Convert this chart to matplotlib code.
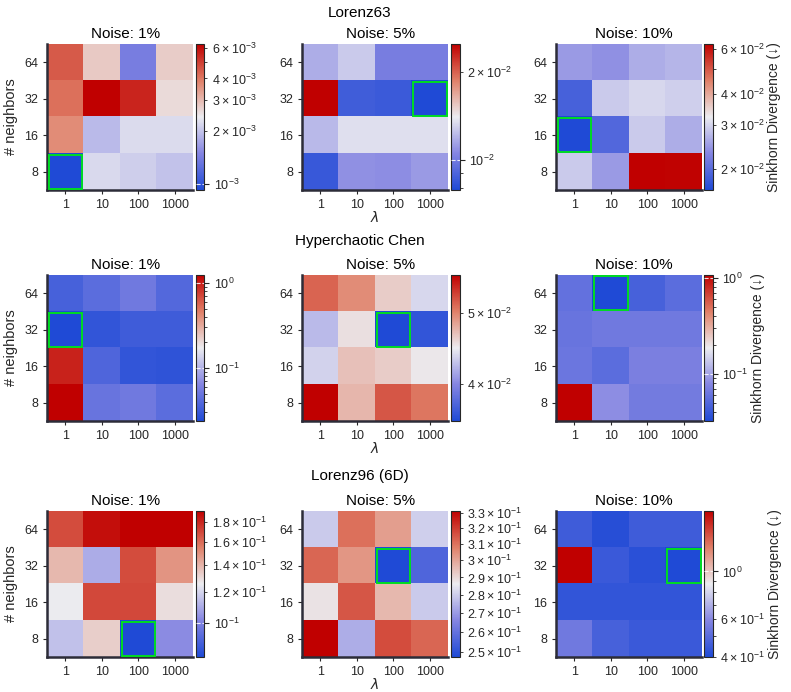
import numpy as np
import matplotlib
matplotlib.use("Agg")
import matplotlib.pyplot as plt
from matplotlib.colors import LogNorm, LinearSegmentedColormap
from matplotlib.patches import Rectangle

plt.rcParams['font.family'] = ['Liberation Sans', 'DejaVu Sans']

# ---------------- data ----------------
systems = ["Lorenz63", "Hyperchaotic Chen", "Lorenz96 (6D)"]
noise_levels = ["1%", "5%", "10%"]
neighbors = [64, 32, 16, 8]
lambdas = [1, 10, 100, 1000]

# rows: neighbors 64, 32, 16, 8 ; cols: lambda 1, 10, 100, 1000
l63_n1 = [[4.46e-3, 2.81e-3, 1.41e-3, 2.76e-3],
          [4.13e-3, 6.30e-3, 5.50e-3, 2.60e-3],
          [3.68e-3, 1.91e-3, 2.23e-3, 2.23e-3],
          [0.92e-3, 2.20e-3, 2.10e-3, 1.99e-3]]
l63_n5 = [[1.18e-2, 1.28e-2, 1.02e-2, 1.02e-2],
          [2.50e-2, 0.87e-2, 0.86e-2, 0.79e-2],
          [1.22e-2, 1.36e-2, 1.36e-2, 1.36e-2],
          [0.85e-2, 1.09e-2, 1.08e-2, 1.12e-2]]
l63_n10 = [[2.47e-2, 2.40e-2, 2.64e-2, 2.71e-2],
           [1.89e-2, 2.90e-2, 3.02e-2, 2.94e-2],
           [1.65e-2, 1.96e-2, 2.90e-2, 2.64e-2],
           [2.90e-2, 2.47e-2, 6.30e-2, 6.25e-2]]

chen_n1 = [[0.0353, 0.0431, 0.0525, 0.0398],
           [0.0238, 0.0290, 0.0327, 0.0327],
           [0.940, 0.0382, 0.0290, 0.0279],
           [1.240, 0.0485, 0.0525, 0.0431]]
chen_n5 = [[5.15e-2, 4.96e-2, 4.63e-2, 4.38e-2],
           [4.24e-2, 4.54e-2, 3.56e-2, 3.64e-2],
           [4.36e-2, 4.69e-2, 4.63e-2, 4.50e-2],
           [5.64e-2, 4.74e-2, 5.22e-2, 5.07e-2]]
chen_n10 = [[0.0587, 0.0324, 0.0460, 0.0548],
            [0.0608, 0.0652, 0.0652, 0.0652],
            [0.0630, 0.0548, 0.0724, 0.0724],
            [1.070, 0.0833, 0.0675, 0.0675]]

l96_n1 = [[0.169, 0.187, 0.192, 0.192],
          [0.139, 0.110, 0.169, 0.149],
          [0.125, 0.170, 0.170, 0.129],
          [0.115, 0.133, 0.0819, 0.103]]
l96_n5 = [[0.2797, 0.3104, 0.3015, 0.2805],
          [0.3122, 0.3032, 0.2475, 0.2562],
          [0.2879, 0.3149, 0.2963, 0.2797],
          [0.3310, 0.2740, 0.3168, 0.3122]]
l96_n10 = [[0.453, 0.413, 0.453, 0.453],
           [1.910, 0.446, 0.419, 0.400],
           [0.432, 0.432, 0.432, 0.432],
           [0.547, 0.468, 0.446, 0.446]]

panels = [[l63_n1, l63_n5, l63_n10],
          [chen_n1, chen_n5, chen_n10],
          [l96_n1, l96_n5, l96_n10]]

# ---------------- style ----------------
cmap = LinearSegmentedColormap.from_list(
    "bwr_custom", ["#1f4ad6", "#8585e2", "#ececf0", "#e08068", "#c00000"])

W, H = 791, 692
fig = plt.figure(figsize=(W / 100, H / 100), dpi=100)


def box(x, y, w, h):
    return [x / W, 1 - (y + h) / H, w / W, h / H]


hx = [47, 302, 556]
hy = [44, 275, 511]
hs = 146
cx = [196, 451, 704]
cw = 8.5
row_title_y = [13, 241, 476]
noise_title_y = [34, 265, 501]
dark = "#262626"

for r in range(3):
    fig.text(360 / W, 1 - row_title_y[r] / H, systems[r], ha="center",
             va="center", fontsize=11)
    for c in range(3):
        arr = np.array(panels[r][c])
        ax = fig.add_axes(box(hx[c], hy[r], hs, hs))
        norm = LogNorm(vmin=arr.min(), vmax=arr.max())
        im = ax.imshow(arr, cmap=cmap, norm=norm, aspect="auto",
                       interpolation="nearest")
        ax.set_xticks(range(len(lambdas)))
        ax.set_xticklabels([str(v) for v in lambdas])
        ax.set_yticks(range(len(neighbors)))
        ax.set_yticklabels([str(v) for v in neighbors])
        ax.tick_params(length=3, width=0.8, labelsize=9, colors=dark)
        for s in ["top", "right"]:
            ax.spines[s].set_visible(False)
        for s in ["left", "bottom"]:
            ax.spines[s].set_linewidth(1.8)
            ax.spines[s].set_color("#2c2c38")
        i, j = np.unravel_index(arr.argmin(), arr.shape)
        ax.add_patch(Rectangle((j - 0.45, i - 0.46), 0.92, 0.92, fill=False,
                               edgecolor="#00dd22", linewidth=1.4, zorder=5))
        if c == 0:
            ax.set_ylabel("# neighbors", fontsize=10.5, color=dark)
        if c == 1:
            ax.set_xlabel(r"$\lambda$", fontsize=10, labelpad=-1, color=dark)

        cax = fig.add_axes(box(cx[c], hy[r], cw, hs))
        cb = fig.colorbar(im, cax=cax)
        cb.outline.set_edgecolor(dark)
        cb.outline.set_linewidth(0.8)
        cb.ax.tick_params(which="both", labelsize=9, colors=dark)
        cb.ax.tick_params(which="major", length=3.5, width=0.8)
        cb.ax.tick_params(which="minor", length=2, width=0.6)
        for v in cb.ax.yaxis.get_majorticklocs():
            if arr.min() <= v <= arr.max():
                cb.ax.axhline(v, color="white", linestyle="--",
                              linewidth=0.8, alpha=0.85, zorder=3)
        if c == 2:
            cb.set_label("Sinkhorn Divergence (↓)", fontsize=10, color=dark,
                         labelpad=2)

        fig.text((hx[c] + cx[c] + cw) / 2 / W, 1 - noise_title_y[r] / H,
                 "Noise: " + noise_levels[c], ha="center", va="center",
                 fontsize=11)

fig.savefig("out.png", dpi=100)
